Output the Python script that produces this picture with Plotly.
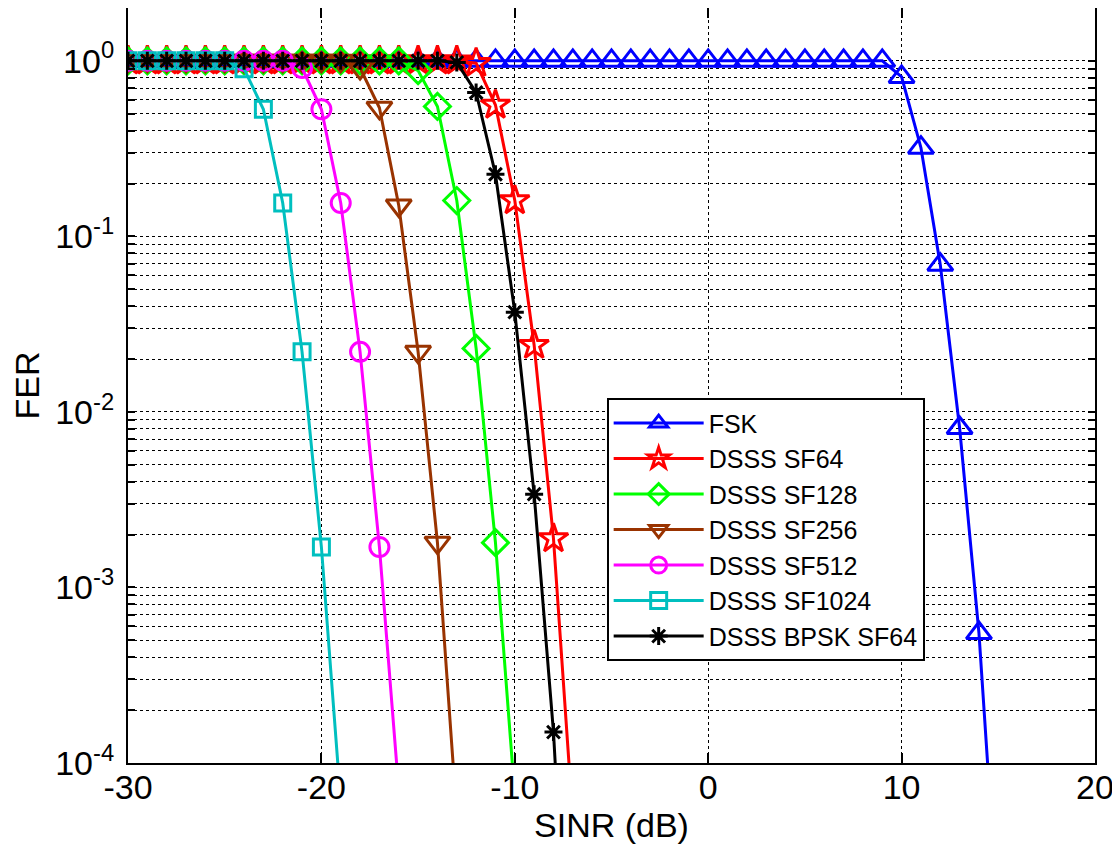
import plotly.graph_objects as go
import numpy as np

# FER values per series, SINR in dB, 1 dB steps
fsk_x = list(range(-30, 16))
fsk_y = [1.0] * 40 + [0.81, 0.32, 0.069, 0.0081, 5.5e-4, 1.2e-5]

sf64_x = list(range(-30, -6))
sf64_y = [1.0] * 18 + [0.97, 0.56, 0.16, 0.024, 0.0019, 4.8e-5]

sf128_x = list(range(-30, -9))
sf128_y = [1.0] * 15 + [0.88, 0.55, 0.16, 0.023, 0.0018, 6.5e-5]

sf256_x = list(range(-30, -12))
sf256_y = [1.0] * 12 + [0.91, 0.54, 0.15, 0.022, 0.0018, 5e-5]

sf512_x = list(range(-30, -15))
sf512_y = [1.0] * 9 + [0.91, 0.53, 0.155, 0.022, 0.0017, 7e-5]

sf1024_x = list(range(-30, -18))
sf1024_y = [1.0] * 6 + [0.90, 0.53, 0.155, 0.022, 0.0017, 6e-5]

bpsk_x = list(range(-30, -6))
bpsk_y = [1.0] * 17 + [0.98, 0.66, 0.226, 0.037, 0.0034, 1.5e-4, 1.6e-6]

x_ticks = [-30, -20, -10, 0, 10, 20]
x_tick_labels = ["-30", "-20", "-10", "0", "10", "20"]
decades = [-4, -3, -2, -1, 0]

series = [
    ("FSK", fsk_x, fsk_y, "#0000FF", "triangle-up-open", 22),
    ("DSSS SF64", sf64_x, sf64_y, "#FF0000", "star-open", 22),
    ("DSSS SF128", sf128_x, sf128_y, "#00FF00", "diamond-open", 20),
    ("DSSS SF256", sf256_x, sf256_y, "#993300", "triangle-down-open", 22),
    ("DSSS SF512", sf512_x, sf512_y, "#FF00FF", "circle-open", 19),
    ("DSSS SF1024", sf1024_x, sf1024_y, "#00BFBF", "square-open", 16),
    ("DSSS BPSK SF64", bpsk_x, bpsk_y, "#000000", "asterisk-open", 15),
]

fig = go.Figure()
for name, xs, ys, col, sym, sz in series:
    fig.add_trace(go.Scatter(
        x=xs, y=ys, name=name, mode="lines+markers",
        line=dict(color=col, width=3),
        marker=dict(symbol=sym, size=sz, color=col, line=dict(color=col, width=3)),
    ))

yvals = []
ytext = []
for d in decades:
    for k in range(1, 10):
        if d == 0 and k > 1:
            break
        yvals.append(k * 10.0 ** d)
        ytext.append(f"10<sup>{d}</sup>" if k == 1 else "")

font_family = "Liberation Sans, Arial, sans-serif"

fig.update_layout(
    width=1112, height=849,
    margin=dict(l=120, r=25, t=0, b=94),
    paper_bgcolor="white", plot_bgcolor="white",
    font=dict(family=font_family, size=34, color="black"),
    showlegend=True,
    legend=dict(
        x=0.495, y=0.483, xanchor="left", yanchor="top",
        bgcolor="white", bordercolor="black", borderwidth=2,
        font=dict(size=25, family=font_family, color="black"),
        itemwidth=90, tracegroupgap=0,
    ),
    xaxis=dict(
        range=[-30, 20], tickvals=x_ticks, ticktext=x_tick_labels,
        showline=True, linecolor="black", linewidth=2, mirror="allticks",
        ticks="inside", ticklen=10, tickwidth=1.5, tickcolor="black",
        showgrid=True, gridcolor="black", griddash="dot", gridwidth=1,
        zeroline=False, automargin=False, ticklabelstandoff=-7,
        title=dict(text="SINR (dB)", standoff=6, font=dict(size=34)),
        tickfont=dict(size=34),
    ),
    yaxis=dict(
        type="log", range=[-4, np.log10(2)], tickvals=yvals, ticktext=ytext,
        showline=True, linecolor="black", linewidth=2, mirror="allticks",
        ticks="inside", ticklen=7, tickwidth=1.5, tickcolor="black",
        showgrid=True, gridcolor="black", griddash="dot", gridwidth=1,
        zeroline=False, automargin=False, ticklabelstandoff=5,
        title=dict(text="FER", standoff=10, font=dict(size=34)),
        tickfont=dict(size=34),
    ),
)

fig.write_html("out.html")
